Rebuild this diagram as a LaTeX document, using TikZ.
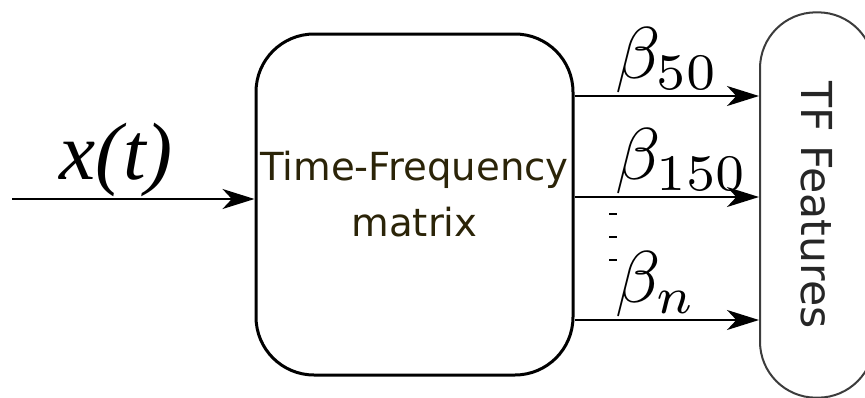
\documentclass[tikz,border=0pt]{standalone}
\usepackage{graphicx}
\usepackage{fontspec}
\newfontfamily\boxfont{DejaVu Sans}
\newfontfamily\sigfont{Liberation Serif}
\usetikzlibrary{arrows.meta}
\definecolor{tfmtext}{RGB}{43,36,8}
\definecolor{featline}{RGB}{60,60,60}
\newcommand{\bigbeta}[1]{\scalebox{5.5}{$\beta_{#1}$}}

\begin{document}
\begin{tikzpicture}[x=0.75pt,y=-0.75pt]
	\tikzset{>={Stealth[length=24pt,width=15pt,inset=7pt]}}
	\tikzset{beta/.style={anchor=south west,inner sep=2pt,xshift=28pt}}

  \useasboundingbox (0,0) rectangle (865,397);

  \node[draw,line width=2.25pt,rounded corners=43.5pt,minimum width=237.75pt,minimum height=255.75pt] (tfm) at (414.5,204.5) {};
  \node[align=center,text=tfmtext,font=\boxfont\fontsize{29}{42}\selectfont] (tfmlabel) at (414.5,194) {Time-Frequency\\ matrix};
  \node[draw=featline,line width=1.5pt,rounded corners=42pt,rotate=-90,minimum width=289pt,minimum height=85.5pt,text=black!85,font=\boxfont\fontsize{32}{34}\selectfont] (tf) at (817,205) {TF Features};

  \coordinate (in) at (12,199);
  \coordinate (b50) at (0,96);
  \coordinate (b150) at (0,197);
  \coordinate (bn) at (0,320);

	\draw[->,line width=1.5pt] (in) -- (in -| tfm.west) node[pos=0.43,above,inner sep=1pt,font=\sigfont\itshape\fontsize{61}{64}\selectfont] {x(t)};

  \draw[->,line width=1.5pt] (tfm.east |- b50) -- (tf.south |- b50) node[pos=0,beta] {\bigbeta{50}};
  \draw[->,line width=1.5pt] (tfm.east |- b150) -- (tf.south |- b150) node[pos=0,beta] {\bigbeta{150}};
  \draw[->,line width=1.5pt] (tfm.east |- bn) -- (tf.south |- bn) node[pos=0,beta] {\bigbeta{n}};

	\foreach \y in {214,237,260}
		\draw[line width=1.5pt] (609,\y) -- (617,\y);

\end{tikzpicture}
\end{document}
